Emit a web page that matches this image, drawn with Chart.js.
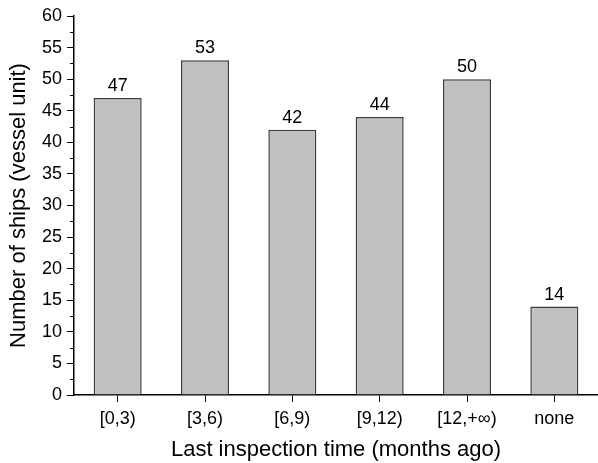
<!DOCTYPE html>
<html>
<head>
<meta charset="utf-8">
<script src="https://cdn.jsdelivr.net/npm/chart.js@4/dist/chart.umd.min.js"></script>
<style>
  html, body { margin: 0; padding: 0; background: #fff; }
  #wrap { width: 598px; height: 463px; }
</style>
</head>
<body>
<div id="wrap"><canvas id="ships"></canvas></div>
<script>
const categories = ["[0,3)", "[3,6)", "[6,9)", "[9,12)", "[12,+\u221e)", "none"];
const shipCounts = [47, 53, 42, 44, 50, 14];
const yMin = 0;
const yMax = 60;
const yStep = 5;

const FONT = "'Liberation Sans', Arial, sans-serif";

// numbers above each bar
const barLabels = {
    id: "barLabels",
    afterDatasetsDraw(chart) {
        const ctx = chart.ctx;
        const meta = chart.getDatasetMeta(0);
        ctx.save();
        ctx.font = "18px " + FONT;
        ctx.fillStyle = "#000";
        ctx.textAlign = "center";
        ctx.textBaseline = "bottom";
        meta.data.forEach((bar, i) => {
            ctx.fillText(String(shipCounts[i]), bar.x, bar.y - 3);
        });
        ctx.restore();
    }
};

// minor ticks halfway between the major ones
const minorTicks = {
    id: "minorTicks",
    afterDraw(chart) {
        const y = chart.scales.y;
        const ctx = chart.ctx;
        ctx.save();
        ctx.strokeStyle = "#000";
        ctx.lineWidth = 1;
        for (let v = yMin + yStep / 2; v < yMax; v += yStep) {
            const py = Math.round(y.getPixelForValue(v)) + 0.5;
            ctx.beginPath();
            ctx.moveTo(y.right, py);
            ctx.lineTo(y.right - 4, py);
            ctx.stroke();
        }
        ctx.restore();
    }
};

new Chart(document.getElementById("ships"), {
    type: "bar",
    data: {
        labels: categories,
        datasets: [{
            data: shipCounts,
            backgroundColor: "#c0c0c0",
            borderColor: "#3c3c3c",
            borderWidth: 1.5,
            categoryPercentage: 0.55,
            barPercentage: 1
        }]
    },
    options: {
        responsive: true,
        maintainAspectRatio: false,
        animation: false,
        layout: { padding: { top: 16, right: 0, left: 0, bottom: 0 } },
        plugins: {
            legend: { display: false },
            tooltip: { enabled: false }
        },
        scales: {
            x: {
                afterFit(scale) { scale.height = 68; },
                grid: {
                    drawOnChartArea: false,
                    offset: false,
                    tickLength: 7,
                    color: "#000"
                },
                border: { color: "#000", width: 1.5 },
                ticks: {
                    color: "#000",
                    padding: 6,
                    font: { family: FONT, size: 18 }
                },
                title: {
                    display: true,
                    text: "Last inspection time (months ago)",
                    color: "#000",
                    padding: { top: 0, bottom: 0 },
                    font: { family: FONT, size: 22 }
                }
            },
            y: {
                min: yMin,
                max: yMax,
                afterFit(scale) { scale.width = 74; },
                grid: {
                    drawOnChartArea: false,
                    tickLength: 7,
                    color: "#000"
                },
                border: { color: "#000", width: 1.5 },
                ticks: {
                    stepSize: yStep,
                    color: "#000",
                    padding: 5,
                    font: { family: FONT, size: 18 }
                },
                title: {
                    display: true,
                    text: "Number of ships (vessel unit)",
                    color: "#000",
                    padding: { top: 6, bottom: 0 },
                    font: { family: FONT, size: 22 }
                }
            }
        }
    },
    plugins: [barLabels, minorTicks]
});
</script>
</body>
</html>
